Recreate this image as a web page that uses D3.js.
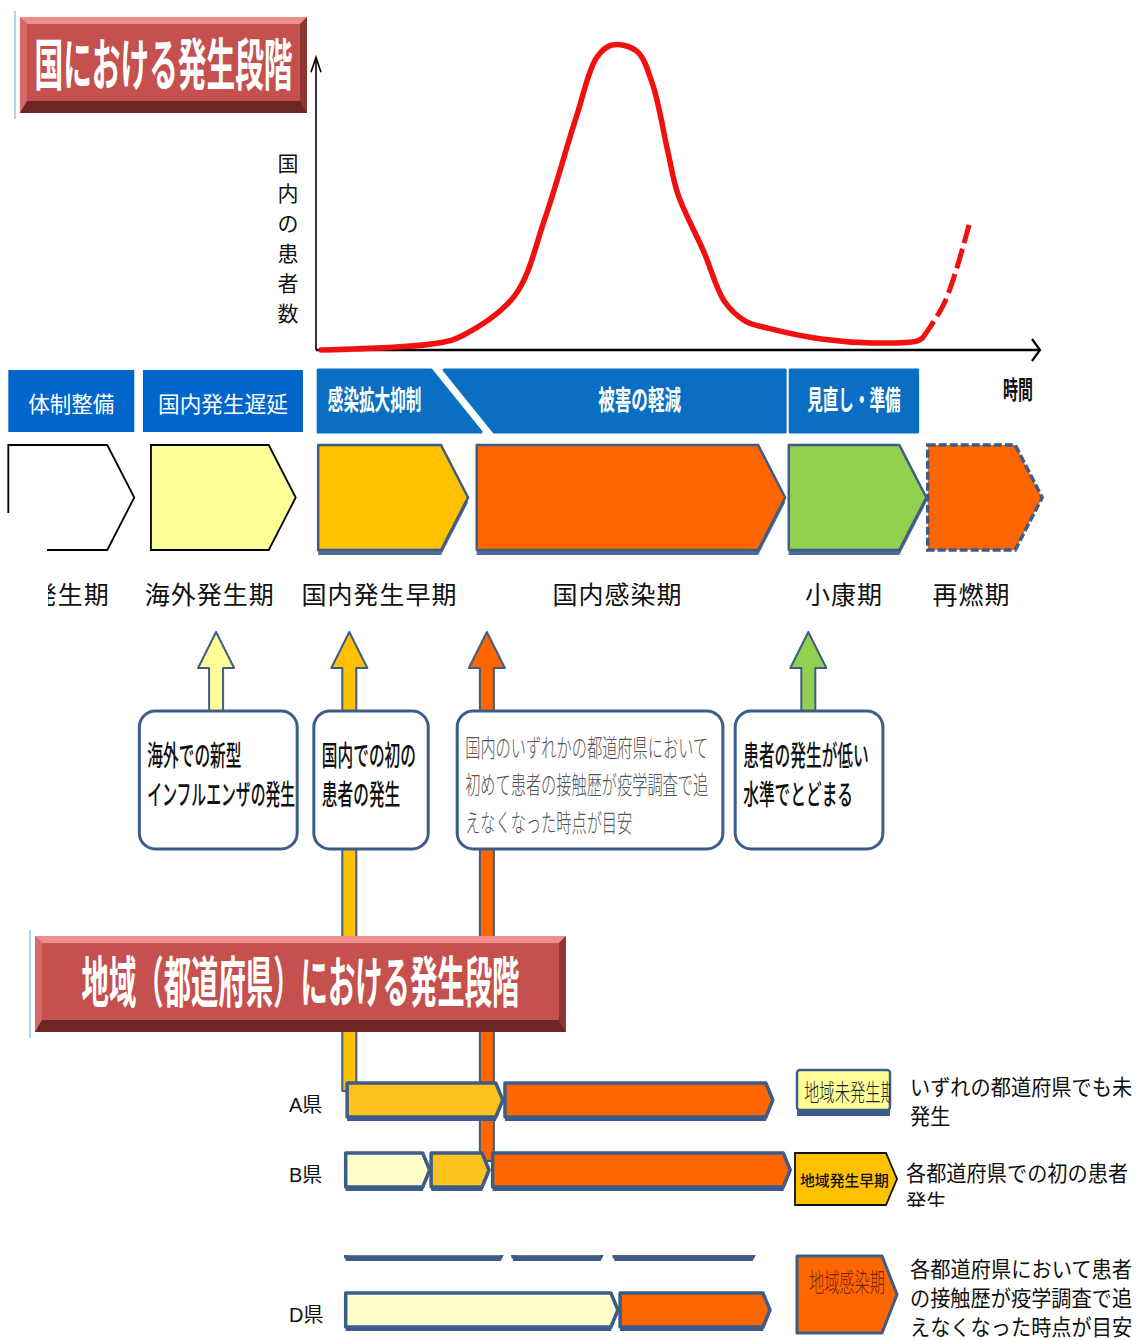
<!DOCTYPE html>
<html>
<head>
<meta charset="utf-8">
<script src="https://cdn.jsdelivr.net/npm/d3@7"></script>
<style>
  body { margin: 0; background: #fff; }
</style>
</head>
<body>
<svg id="chart" width="1146" height="1340"></svg>
<script>
// time runs 0 (origin of the axis) .. 100 (arrow of the axis); patients 0 .. 100 (peak)
var curveTime = [0.7, 16.9, 20.4, 27.5, 31.6, 35.9, 38.8, 40.9, 44.3, 46.5, 48.6, 50, 53.6, 56.4, 59.3, 62.7, 69.8, 76.8, 83.1, 83.8];
var curvePatients = [0, 2.3, 4.9, 18, 43, 76, 96, 100, 98, 87, 65, 51, 32, 16, 9.5, 7, 3.6, 2.3, 3, 4];
var resurgeTime = [83.8, 86.9, 90.2];
var resurgePatients = [4, 16, 41];

var titles = ["国における発生段階", "地域（都道府県）における発生段階"];
var axisLabel = "国内の患者数";
var timeLabel = "時間";

var policies = ["体制整備", "国内発生遅延", "感染拡大抑制", "被害の軽減", "見直し・準備"];
var policyStart = [-42.5, -23.9, 0.3, 17.7, 65.5];
var policyEnd = [-25.1, -1.8, 22.8, 64.8, 83.1];

var phases = ["未発生期", "海外発生期", "国内発生早期", "国内感染期", "小康期", "再燃期"];
var phaseStart = [-42.5, -22.8, 0.3, 22.2, 65.3, 84.5];
var phaseEnd = [-25.1, -2.8, 21, 64.8, 84.3, 100.3];

var triggerText = [
  ["海外での新型", "インフルエンザの発生"],
  ["国内での初の", "患者の発生"],
  ["国内のいずれかの都道府県において", "初めて患者の接触歴が疫学調査で追", "えなくなった時点が目安"],
  ["患者の発生が低い", "水準でとどまる"]
];
var triggerPhase = [1, 2, 3, 4];
var triggerTime = [-13.8, 4.6, 23.6, 68];
var triggerBoxStart = [-24.4, -0.3, 19.5, 57.9];
var triggerBoxEnd = [-2.6, 15.5, 56.2, 78.3];
var triggerReach = [null, "A県", "B県", null];

var prefectures = ["A県", "B県", "C県", "D県"];
var regionStages = ["地域未発生期", "地域発生早期", "地域感染期"];
var segPref = ["A県", "A県", "B県", "B県", "B県", "C県", "C県", "C県", "D県", "D県"];
var segStage = [1, 2, 0, 1, 2, 0, 1, 2, 0, 2];
var segStart = [4.3, 26.1, 4.1, 15.9, 24.4, 4.1, 27.2, 41.2, 4.1, 42];
var segEnd = [25.8, 63.1, 15.7, 23.9, 65.5, 26.5, 40.3, 61.3, 41.7, 62.7];

var stageNotes = [
  ["いずれの都道府県でも未", "発生"],
  ["各都道府県での初の患者", "発生"],
  ["各都道府県において患者", "の接触歴が疫学調査で追", "えなくなった時点が目安"]
];

// ---------------------------------------------------------------
var FONT = "'Noto Sans CJK JP', 'Noto Sans', sans-serif";
var EDGE = "#3d5c88";
var phaseFill = ["#ffffff", "#ffff99", "#ffc000", "#ff6600", "#92d050", "#ff6600"];
var regionFill = ["#ffffcc", "#fdc21e", "#ff6600"];

var svg = d3.select("#chart");
var defs = svg.append("defs");

var x = d3.scaleLinear().domain([0, 100]).range([316, 1040]);
var y = d3.scaleLinear().domain([0, 100]).range([350, 45]);
var rowY = d3.scalePoint().domain(prefectures).range([1101, 1311]);

function chevron(x0, x1, y0, y1, tip) {
  var m = (y0 + y1) / 2;
  return "M" + x0 + "," + y0 + "H" + (x1 - tip) + "L" + x1 + "," + m +
    "L" + (x1 - tip) + "," + y1 + "H" + x0 + "Z";
}

// narrow a text horizontally to the given width (condensed look of the original)
function squeeze(sel, w) {
  var node = sel.node();
  var natural = node.getComputedTextLength();
  if (!natural) return sel;
  var k = w / natural;
  var tx = +sel.attr("x");
  return sel.attr("transform", "translate(" + tx + ",0) scale(" + k + ",1) translate(" + (-tx) + ",0)");
}

function bevelTitle(x0, y0, w, h, label, size, textW, baseline) {
  var g = svg.append("g");
  g.append("line").attr("x1", x0 - 5).attr("x2", x0 - 5)
    .attr("y1", y0 - 6).attr("y2", y0 + h + 6)
    .attr("stroke", "#b9d0ea").attr("stroke-width", 2);
  var t = 7, s = 7, b = 12;
  g.append("rect").attr("x", x0).attr("y", y0).attr("width", w).attr("height", h).attr("fill", "#c4514e");
  var faces = [
    [[x0, y0], [x0 + w, y0], [x0 + w - s, y0 + t], [x0 + s, y0 + t], "#ee8d89"],
    [[x0, y0], [x0 + s, y0 + t], [x0 + s, y0 + h - b], [x0, y0 + h], "#d76a66"],
    [[x0 + w, y0], [x0 + w, y0 + h], [x0 + w - s, y0 + h - b], [x0 + w - s, y0 + t], "#8f3634"],
    [[x0, y0 + h], [x0 + w, y0 + h], [x0 + w - s, y0 + h - b], [x0 + s, y0 + h - b], "#6e2624"]
  ];
  g.selectAll("polygon").data(faces).enter().append("polygon")
    .attr("points", function(d) { return d.slice(0, 4).map(function(p) { return p.join(","); }).join(" "); })
    .attr("fill", function(d) { return d[4]; });
  squeeze(g.append("text").attr("x", x0 + w / 2).attr("y", baseline)
    .attr("text-anchor", "middle").attr("font-family", FONT).attr("font-weight", 700)
    .attr("font-size", size).attr("fill", "#fff").text(label), textW);
}

// ---- title 1
bevelTitle(20, 17, 287, 96, titles[0], 56, 258, 85);

// ---- axes
var axisG = svg.append("g").attr("stroke", "#000").attr("fill", "none");
axisG.append("line").attr("x1", x(0)).attr("x2", x(0)).attr("y1", y(0)).attr("y2", y(96)).attr("stroke-width", 1.6);
axisG.append("polyline").attr("points", [[x(0) - 5, y(96) + 15], [x(0), y(96)], [x(0) + 5, y(96) + 15]].join(" ")).attr("stroke-width", 1.6);
axisG.append("line").attr("x1", x(0)).attr("x2", x(100)).attr("y1", y(0)).attr("y2", y(0)).attr("stroke-width", 2.6);
axisG.append("polyline").attr("points", [[x(100) - 8, y(0) - 11], [x(100), y(0)], [x(100) - 8, y(0) + 11]].join(" ")).attr("stroke-width", 2.2);

// ---- curve
var line = d3.line().x(function(d) { return x(d[0]); }).y(function(d) { return y(d[1]); })
  .curve(d3.curveCatmullRom.alpha(0.5));
svg.append("path").datum(d3.zip(curveTime, curvePatients)).attr("d", line)
  .attr("fill", "none").attr("stroke", "#f01010").attr("stroke-width", 5.5).attr("stroke-linecap", "round");
svg.append("path").datum(d3.zip(resurgeTime, resurgePatients)).attr("d", line)
  .attr("fill", "none").attr("stroke", "#f01010").attr("stroke-width", 5).attr("stroke-dasharray", "20,6");

// ---- axis labels
var yl = svg.append("text").attr("font-family", FONT).attr("font-size", 21).attr("fill", "#111").attr("text-anchor", "middle");
axisLabel.split("").forEach(function(c, i) {
  yl.append("tspan").attr("x", 288).attr("y", 171 + i * 30).text(c);
});
squeeze(svg.append("text").attr("x", 1003).attr("y", 399).attr("font-family", FONT).attr("font-weight", 700)
  .attr("font-size", 25).attr("fill", "#111").text(timeLabel), 30);

// ---- policy band
var bandTop = 370, bandBot = 432, slant = 50;
policies.forEach(function(p, i) {
  var x0 = x(policyStart[i]), x1 = x(policyEnd[i]);
  var d, cx;
  if (i === 2) {
    d = "M" + x0 + "," + bandTop + "H" + (x1 - slant) + "L" + x1 + "," + bandBot + "H" + x0 + "Z";
    cx = (x0 + x1 - slant) / 2;
  } else if (i === 3) {
    d = "M" + x0 + "," + bandTop + "H" + x1 + "V" + bandBot + "H" + (x0 + slant) + "Z";
    cx = (x0 + slant + x1) / 2;
  } else {
    d = "M" + x0 + "," + bandTop + "H" + x1 + "V" + bandBot + "H" + x0 + "Z";
    cx = (x0 + x1) / 2;
  }
  svg.append("path").attr("d", d).attr("fill", i < 2 ? "#0066cc" : "#0a6fc2")
    .attr("stroke", i < 2 ? "none" : "#0a6fc2").attr("stroke-width", 3).attr("stroke-linejoin", "round");
  var t = svg.append("text").attr("x", cx).attr("text-anchor", "middle").attr("font-family", FONT)
    .attr("fill", "#fff").text(p);
  if (i < 2) {
    squeeze(t.attr("y", 412).attr("font-size", 22), p.length * 22 - 2);
  } else {
    squeeze(t.attr("y", 410).attr("font-size", 27).attr("font-weight", 700), p.length * (i === 3 ? 16.6 : 15.6));
  }
});

// ---- national phase chevrons
var chevTop = 445, chevBot = 550, chevTip = 27;
phases.forEach(function(p, i) {
  var x0 = x(phaseStart[i]), x1 = x(phaseEnd[i]);
  var d = chevron(x0, x1, chevTop, chevBot, chevTip);
  if (i < 2) {
    svg.append("path").attr("d", d).attr("fill", phaseFill[i]).attr("stroke", "#000").attr("stroke-width", 1.8);
  } else if (i < 5) {
    svg.append("path").attr("d", d).attr("transform", "translate(0,5)").attr("fill", "#4f6d96");
    svg.append("path").attr("d", d).attr("fill", phaseFill[i]).attr("stroke", EDGE).attr("stroke-width", 2.5)
      .attr("stroke-linejoin", "round");
  } else {
    svg.append("path").attr("d", d).attr("fill", phaseFill[i]).attr("stroke", EDGE).attr("stroke-width", 3.5)
      .attr("stroke-dasharray", "8,3");
  }
  var t = svg.append("text").attr("x", (x0 + x1 - chevTip) / 2).attr("y", 604).attr("text-anchor", "middle")
    .attr("font-family", FONT).attr("font-size", 25).attr("fill", "#111").attr("letter-spacing", 1).text(p);
  if (i === 0) t.attr("clip-path", "url(#clipFirst)");
});
// the first chevron is cut off at its lower left corner
svg.append("rect").attr("x", 2).attr("y", 513).attr("width", 45).attr("height", 44).attr("fill", "#fff");
defs.append("clipPath").attr("id", "clipFirst").append("rect").attr("x", 48).attr("y", 560).attr("width", 200).attr("height", 60);

// ---- trigger arrows (drawn first so boxes and title cover them)
var headTip = 632, headBase = 668, headHalf = 18, shaftHalf = 7;
var boxTop = 711, boxBot = 849;
triggerTime.forEach(function(t, i) {
  var cx = x(t);
  var bottom = triggerReach[i] ? rowY(triggerReach[i]) - 10 : boxTop + 4;
  var pts = [[cx, headTip], [cx + headHalf, headBase], [cx + shaftHalf, headBase], [cx + shaftHalf, bottom],
    [cx - shaftHalf, bottom], [cx - shaftHalf, headBase], [cx - headHalf, headBase]];
  svg.append("polygon").attr("points", pts.join(" ")).attr("fill", phaseFill[triggerPhase[i]])
    .attr("stroke", EDGE).attr("stroke-width", 2).attr("stroke-linejoin", "round");
});

// ---- trigger boxes
triggerText.forEach(function(lines, i) {
  var x0 = x(triggerBoxStart[i]), x1 = x(triggerBoxEnd[i]);
  svg.append("rect").attr("x", x0).attr("y", boxTop).attr("width", x1 - x0).attr("height", boxBot - boxTop)
    .attr("rx", 16).attr("fill", "#fff").attr("stroke", EDGE).attr("stroke-width", 3);
  var thin = lines.length > 2;
  lines.forEach(function(l, j) {
    var t = svg.append("text").attr("x", x0 + 8)
      .attr("y", thin ? boxTop + 46 + j * 37.5 : boxTop + 55 + j * 39)
      .attr("font-family", FONT).attr("font-size", thin ? 25 : 28)
      .attr("font-weight", thin ? 300 : 500).attr("fill", thin ? "#555" : "#111").text(l);
    squeeze(t, Math.min(l.length * (thin ? 15.2 : 15.7), x1 - x0 - 10));
  });
});

// ---- title 2
bevelTitle(35, 936, 531, 96, titles[1], 55, 438, 1002);

// ---- prefecture rows
defs.append("clipPath").attr("id", "clipHidden").append("rect")
  .attr("x", 0).attr("y", rowY("C県") + 14).attr("width", 1146).attr("height", 20);
var barUp = 18, barDown = 16, barTip = 7;
prefectures.forEach(function(p) {
  var g = svg.append("g");
  if (p === "C県") g.attr("clip-path", "url(#clipHidden)");
  var cy = rowY(p);
  g.append("text").attr("x", 289).attr("y", cy + 11).attr("font-family", "'Liberation Sans', " + FONT)
    .attr("font-size", 20).attr("fill", "#111").text(p);
  segPref.forEach(function(sp, k) {
    if (sp !== p) return;
    var d = chevron(x(segStart[k]), x(segEnd[k]), cy - barUp, cy + barDown, barTip);
    g.append("path").attr("d", d).attr("transform", "translate(0,4)").attr("fill", EDGE);
    g.append("path").attr("d", d).attr("fill", regionFill[segStage[k]]).attr("stroke", EDGE)
      .attr("stroke-width", 3.5).attr("stroke-linejoin", "round");
  });
});

// ---- legend of regional stages
var lg = svg.append("g");
// 地域未発生期
lg.append("rect").attr("x", 797).attr("y", 1074).attr("width", 93).attr("height", 42).attr("fill", EDGE);
lg.append("rect").attr("x", 797).attr("y", 1070).attr("width", 93).attr("height", 40).attr("rx", 3)
  .attr("fill", "#ffff99").attr("stroke", EDGE).attr("stroke-width", 2.5);
defs.append("clipPath").attr("id", "clipL1").append("rect").attr("x", 797).attr("y", 1068).attr("width", 93).attr("height", 44);
var l1g = lg.append("g").attr("clip-path", "url(#clipL1)");
squeeze(l1g.append("text").attr("x", 804).attr("y", 1101).attr("font-family", FONT).attr("font-size", 24)
  .attr("font-weight", 300).attr("fill", "#222").text(regionStages[0]), 92);
// 地域発生早期
lg.append("path").attr("d", chevron(795, 897, 1153, 1205, 11)).attr("fill", "#ffc000")
  .attr("stroke", "#111").attr("stroke-width", 1.8);
squeeze(lg.append("text").attr("x", 800).attr("y", 1186).attr("font-family", FONT).attr("font-size", 15)
  .attr("font-weight", 500).attr("fill", "#111").text(regionStages[1]), 89);
// 地域感染期
var l3 = chevron(797, 897, 1256, 1333, 15);
lg.append("path").attr("d", l3).attr("fill", "#ff6600").attr("stroke", EDGE).attr("stroke-width", 3)
  .attr("stroke-linejoin", "round");
squeeze(lg.append("text").attr("x", 809).attr("y", 1292).attr("font-family", FONT).attr("font-size", 26)
  .attr("font-weight", 300).attr("fill", "#7a2600").text(regionStages[2]), 76);

defs.append("clipPath").attr("id", "clipNote2").append("rect").attr("x", 890).attr("y", 1150).attr("width", 256).attr("height", 57);
var noteX = [910, 906, 910];
var noteY = [1095, 1181, 1277];
stageNotes.forEach(function(lines, i) {
  var g = lg.append("g");
  if (i === 1) g.attr("clip-path", "url(#clipNote2)");
  lines.forEach(function(l, j) {
    squeeze(g.append("text").attr("x", noteX[i]).attr("y", noteY[i] + j * 29).attr("font-family", FONT)
      .attr("font-size", 22).attr("fill", "#111").text(l), l.length * 20.2);
  });
});
</script>
</body>
</html>
